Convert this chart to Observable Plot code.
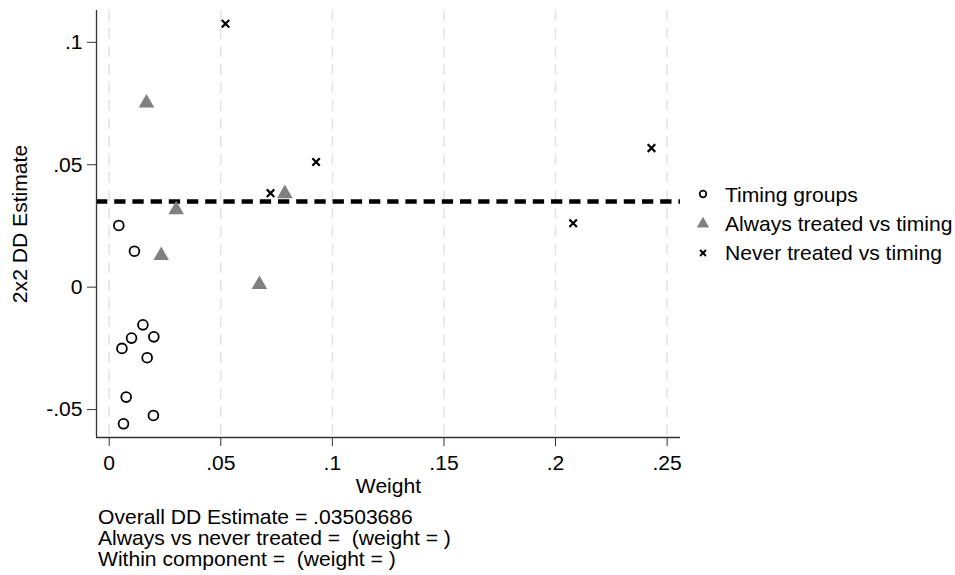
<!DOCTYPE html>
<html><head><meta charset="utf-8">
<script src="https://cdn.jsdelivr.net/npm/d3@7"></script>
<script src="https://cdn.jsdelivr.net/npm/@observablehq/plot@0.6"></script>
<style>
html,body{margin:0;padding:0;background:#fff;}
#wrap{position:relative;width:955px;height:575px;font-family:"Liberation Sans",Arial,sans-serif;color:#000;overflow:hidden;}
#chart{position:absolute;left:0;top:0;}
.legtxt{position:absolute;font-size:21.1px;line-height:21.5px;white-space:pre;}
.legsym{position:absolute;overflow:visible;}
#caption{position:absolute;left:98px;top:506px;font-size:21.1px;line-height:21px;white-space:pre;}
</style></head><body>
<div id="wrap"><div id="chart"></div><div id="legend"></div><div id="caption"></div></div>
<script>
// ---- data ----
const seriesNames = ["Timing groups", "Always treated vs timing", "Never treated vs timing"];

const timingWeight   = [0.0043, 0.0113, 0.0151, 0.0100, 0.0200, 0.0057, 0.0170, 0.0076, 0.0198, 0.0064];
const timingEstimate = [0.0252, 0.0147, -0.0154, -0.0208, -0.0203, -0.0250, -0.0288, -0.0449, -0.0524, -0.0558];

const alwaysWeight   = [0.0167, 0.0787, 0.0300, 0.0233, 0.0673];
const alwaysEstimate = [0.0752, 0.0382, 0.0316, 0.0129, 0.0011];

const neverWeight    = [0.0521, 0.0723, 0.0927, 0.2079, 0.2430];
const neverEstimate  = [0.1076, 0.0384, 0.0511, 0.0261, 0.0568];

const overallEstimate = 0.03503686;

const xTicks = [0, 0.05, 0.1, 0.15, 0.2, 0.25];
const xTickLabels = ["0", ".05", ".1", ".15", ".2", ".25"];
const yTicks = [-0.05, 0, 0.05, 0.1];
const yTickLabels = ["-.05", "0", ".05", ".1"];
const xDomain = [-0.0057, 0.256];
const yDomain = [-0.0614, 0.113];

const xTitle = "Weight";
const yTitle = "2x2 DD Estimate";
const captionLines = [
  "Overall DD Estimate = .03503686",
  "Always vs never treated =  (weight = )",
  "Within component =  (weight = )"
];

// ---- build tables ----
const toRows = (ws, es) => ws.map((w, i) => ({weight: w, estimate: es[i]}));
const timingRows = toRows(timingWeight, timingEstimate);
const alwaysRows = toRows(alwaysWeight, alwaysEstimate);
const neverRows  = toRows(neverWeight, neverEstimate);

const FONT = "Liberation Sans, Arial, sans-serif";
const FS = 21.1;
const axisColor = "#333";

const chart = Plot.plot({
  width: 955,
  height: 500,
  marginLeft: 96,
  marginRight: 275,
  marginTop: 10,
  marginBottom: 63,
  style: {fontFamily: FONT, fontSize: FS + "px", background: "white", color: "black", overflow: "visible"},
  x: {domain: xDomain},
  y: {domain: yDomain},
  marks: [
    Plot.gridX(xTicks, {stroke: "#e3e3e3", strokeOpacity: 1, strokeWidth: 1.5, strokeDasharray: "11,7"}),
    Plot.ruleY([overallEstimate], {stroke: "black", strokeWidth: 4.5, strokeDasharray: "11.3,6.9"}),
    Plot.ruleX([xDomain[0]], {stroke: axisColor, strokeWidth: 1.3}),
    Plot.ruleY([yDomain[0]], {stroke: axisColor, strokeWidth: 1.3}),
    Plot.axisX(xTicks, {
      tickFormat: d => xTickLabels[xTicks.indexOf(d)],
      tickSize: 9, tickPadding: 9, fontSize: FS, stroke: axisColor, label: null
    }),
    Plot.axisY(yTicks, {
      tickFormat: d => yTickLabels[yTicks.indexOf(d)],
      tickSize: 9, tickPadding: 5, fontSize: FS, stroke: axisColor, label: null
    }),
    Plot.text([xTitle], {frameAnchor: "bottom", dy: 41, lineAnchor: "top", textAnchor: "middle", fontSize: FS, text: d => d, fill: "black"}),
    Plot.text([yTitle], {frameAnchor: "left", dx: -84, rotate: -90, lineAnchor: "top", textAnchor: "middle", fontSize: FS, text: d => d, fill: "black"}),
    Plot.dot(alwaysRows, {x: "weight", y: "estimate", symbol: "triangle", r: 5.8, fill: "#808080", stroke: "none"}),
    Plot.dot(neverRows, {x: "weight", y: "estimate", symbol: d3.symbolTimes, r: 3.5, stroke: "black", strokeWidth: 2.2, fill: "none"}),
    Plot.dot(timingRows, {x: "weight", y: "estimate", symbol: "circle", r: 4.9, stroke: "black", strokeWidth: 1.8, fill: "white"})
  ]
});
document.getElementById("chart").appendChild(chart);

// ---- legend ----
const legend = document.getElementById("legend");
const legSymbols = [
  {type: d3.symbolCircle, size: 34, fill: "white", stroke: "black", sw: 1.7},
  {type: d3.symbolTriangle, size: 66, fill: "#808080", stroke: "none", sw: 0},
  {type: d3.symbolTimes, size: 24, fill: "none", stroke: "black", sw: 2}
];
const legTop = 201.7, legStep = 29.2, legSymX = 702.5, legTextX = 725;
seriesNames.forEach((name, i) => {
  const baseline = legTop + i * legStep;
  const s = legSymbols[i];
  const svg = document.createElementNS("http://www.w3.org/2000/svg", "svg");
  svg.setAttribute("class", "legsym");
  svg.setAttribute("width", 20); svg.setAttribute("height", 20);
  svg.style.left = (legSymX - 10) + "px";
  svg.style.top = (baseline - 7.4 - 10) + "px";
  const p = document.createElementNS("http://www.w3.org/2000/svg", "path");
  p.setAttribute("d", d3.symbol().type(s.type).size(s.size)());
  p.setAttribute("transform", "translate(10,10)");
  p.setAttribute("fill", s.fill); p.setAttribute("stroke", s.stroke); p.setAttribute("stroke-width", s.sw);
  svg.appendChild(p);
  legend.appendChild(svg);
  const t = document.createElement("div");
  t.className = "legtxt";
  t.textContent = name;
  t.style.left = legTextX + "px";
  t.style.top = (baseline - 18.2) + "px";
  legend.appendChild(t);
});

// ---- caption ----
document.getElementById("caption").textContent = captionLines.join("\n");
</script>
</body></html>
